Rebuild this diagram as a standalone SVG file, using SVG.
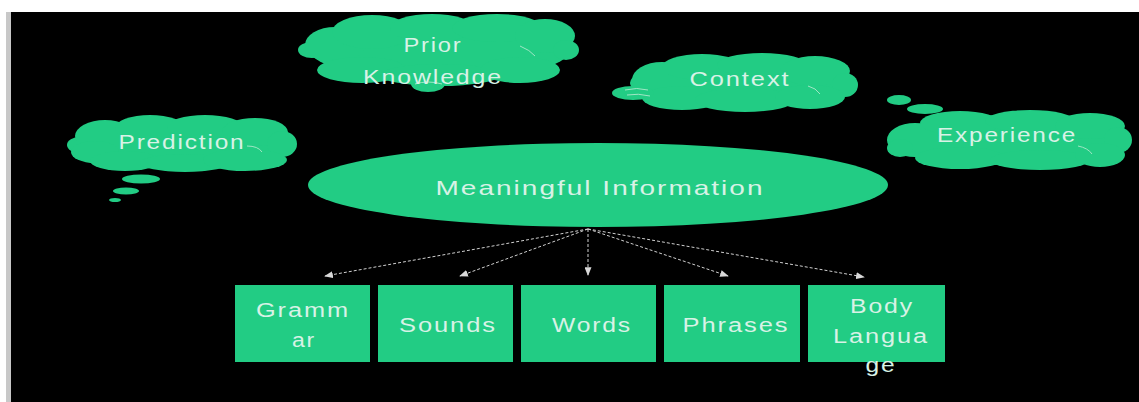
<svg xmlns="http://www.w3.org/2000/svg" width="1139" height="402" viewBox="0 0 1139 402">
  <style>
    .cloud ellipse, .ellipse, .box { fill: #22cc84; }
    .arc { fill: none; stroke: #9fe6c4; stroke-width: 1; }
    .label { font-family: "Liberation Sans", Arial, sans-serif; font-size: 20px; letter-spacing: 1.5px; fill: #d8f2e6; text-anchor: middle; }
    .big { font-size: 21px; }
    .link { stroke: #d0d0d0; stroke-width: 1; stroke-dasharray: 3 2; fill: none; marker-end: url(#head); }
  </style>
  <defs>
    <marker id="head" viewBox="0 0 10 8" refX="9" refY="4" markerWidth="9" markerHeight="7" markerUnits="userSpaceOnUse" orient="auto">
      <path d="M0,0 L10,4 L0,8 Z" fill="#d8d8d8"/>
    </marker>
  </defs>

  <!-- page frame -->
  <rect x="0" y="0" width="1139" height="402" fill="#ffffff"/>
  <rect x="6" y="12" width="5" height="390" fill="#c8c8c8"/>
  <rect x="11" y="12" width="1128" height="390" fill="#000000"/>

  <!-- thought cloud: Prediction -->
  <g id="prediction" class="cloud">
    <ellipse cx="182" cy="143" rx="105" ry="24"/>
    <ellipse cx="80" cy="145" rx="13" ry="8"/>
    <ellipse cx="105" cy="136" rx="30" ry="16"/>
    <ellipse cx="150" cy="128" rx="35" ry="13"/>
    <ellipse cx="205" cy="127" rx="38" ry="12"/>
    <ellipse cx="255" cy="132" rx="33" ry="14"/>
    <ellipse cx="282" cy="144" rx="15" ry="13"/>
    <ellipse cx="95" cy="152" rx="24" ry="11"/>
    <ellipse cx="125" cy="161" rx="35" ry="10"/>
    <ellipse cx="185" cy="163" rx="45" ry="9"/>
    <ellipse cx="245" cy="160" rx="42" ry="11"/>
    <ellipse cx="141" cy="179" rx="19" ry="4.5"/>
    <ellipse cx="126" cy="191" rx="13" ry="3.5"/>
    <ellipse cx="115" cy="200" rx="6" ry="2"/>
    <path class="arc" d="M247,146 Q258,146 262,152"/>
    <text class="label" x="182" y="149" textLength="127" lengthAdjust="spacingAndGlyphs">Prediction</text>
  </g>

  <!-- thought cloud: Prior Knowledge -->
  <g id="prior-knowledge" class="cloud">
    <ellipse cx="440" cy="50" rx="130" ry="30"/>
    <ellipse cx="312" cy="50" rx="14" ry="8"/>
    <ellipse cx="335" cy="45" rx="30" ry="18"/>
    <ellipse cx="372" cy="32" rx="40" ry="17"/>
    <ellipse cx="432" cy="28" rx="42" ry="14"/>
    <ellipse cx="497" cy="28" rx="45" ry="14"/>
    <ellipse cx="545" cy="36" rx="30" ry="17"/>
    <ellipse cx="566" cy="50" rx="13" ry="10"/>
    <ellipse cx="362" cy="70" rx="45" ry="13"/>
    <ellipse cx="440" cy="75" rx="60" ry="11"/>
    <ellipse cx="520" cy="70" rx="40" ry="13"/>
    <ellipse cx="428" cy="84" rx="17" ry="8"/>
    <path class="arc" d="M520,46 Q530,50 535,56"/>
    <path class="arc" d="M415,84 Q428,80 442,84"/>
    <text class="label" x="433" y="52" textLength="59" lengthAdjust="spacingAndGlyphs">Prior</text>
    <text class="label" x="433" y="84" textLength="140" lengthAdjust="spacingAndGlyphs">Knowledge</text>
  </g>

  <!-- thought cloud: Context -->
  <g id="context" class="cloud">
    <ellipse cx="742" cy="83" rx="112" ry="25"/>
    <ellipse cx="662" cy="80" rx="30" ry="18"/>
    <ellipse cx="702" cy="67" rx="40" ry="13"/>
    <ellipse cx="762" cy="65" rx="45" ry="12"/>
    <ellipse cx="815" cy="71" rx="35" ry="15"/>
    <ellipse cx="845" cy="85" rx="13" ry="12"/>
    <ellipse cx="682" cy="98" rx="40" ry="12"/>
    <ellipse cx="745" cy="100" rx="50" ry="12"/>
    <ellipse cx="810" cy="97" rx="35" ry="12"/>
    <ellipse cx="633" cy="93" rx="21" ry="7"/>
    <path class="arc" d="M625,90 Q637,87 648,90"/>
    <path class="arc" d="M627,95 Q638,93 650,96"/>
    <path class="arc" d="M808,86 Q816,88 820,94"/>
    <text class="label" x="740" y="86" textLength="101" lengthAdjust="spacingAndGlyphs">Context</text>
  </g>

  <!-- thought cloud: Experience -->
  <g id="experience" class="cloud">
    <ellipse cx="1010" cy="140" rx="115" ry="25"/>
    <ellipse cx="915" cy="140" rx="28" ry="17"/>
    <ellipse cx="900" cy="148" rx="13" ry="9"/>
    <ellipse cx="960" cy="123" rx="40" ry="12"/>
    <ellipse cx="1030" cy="121" rx="45" ry="11"/>
    <ellipse cx="1090" cy="126" rx="35" ry="13"/>
    <ellipse cx="1118" cy="140" rx="14" ry="13"/>
    <ellipse cx="960" cy="158" rx="45" ry="11"/>
    <ellipse cx="1040" cy="160" rx="50" ry="10"/>
    <ellipse cx="1100" cy="155" rx="25" ry="12"/>
    <ellipse cx="899" cy="100" rx="12" ry="5"/>
    <ellipse cx="925" cy="109" rx="18" ry="5"/>
    <path class="arc" d="M1078,146 Q1088,148 1092,154"/>
    <text class="label" x="1007" y="142" textLength="140" lengthAdjust="spacingAndGlyphs">Experience</text>
  </g>

  <!-- central ellipse -->
  <g id="meaningful-information">
    <ellipse class="ellipse" cx="598" cy="185" rx="290" ry="42"/>
    <text class="label big" x="600" y="195" textLength="329" lengthAdjust="spacingAndGlyphs">Meaningful Information</text>
  </g>

  <!-- connectors from the ellipse to the boxes -->
  <g id="connectors">
    <line class="link" x1="588" y1="229" x2="325" y2="276"/>
    <line class="link" x1="588" y1="229" x2="460" y2="276"/>
    <line class="link" x1="588" y1="229" x2="588" y2="275"/>
    <line class="link" x1="588" y1="229" x2="728" y2="276"/>
    <line class="link" x1="588" y1="229" x2="864" y2="277"/>
  </g>

  <!-- boxes -->
  <g id="grammar">
    <rect class="box" x="235" y="285" width="135" height="77"/>
    <text class="label" x="303" y="317" textLength="94" lengthAdjust="spacingAndGlyphs">Gramm</text>
    <text class="label" x="304" y="347" textLength="24" lengthAdjust="spacingAndGlyphs">ar</text>
  </g>
  <g id="sounds">
    <rect class="box" x="378" y="285" width="135" height="77"/>
    <text class="label" x="448" y="332" textLength="98" lengthAdjust="spacingAndGlyphs">Sounds</text>
  </g>
  <g id="words">
    <rect class="box" x="521" y="285" width="135" height="77"/>
    <text class="label" x="592" y="332" textLength="80" lengthAdjust="spacingAndGlyphs">Words</text>
  </g>
  <g id="phrases">
    <rect class="box" x="664" y="285" width="136" height="77"/>
    <text class="label" x="736" y="332" textLength="107" lengthAdjust="spacingAndGlyphs">Phrases</text>
  </g>
  <g id="body-language">
    <rect class="box" x="808" y="285" width="137" height="77"/>
    <text class="label" x="882" y="313" textLength="64" lengthAdjust="spacingAndGlyphs">Body</text>
    <text class="label" x="881" y="343" textLength="96" lengthAdjust="spacingAndGlyphs">Langua</text>
    <text class="label" x="881" y="372" textLength="31" lengthAdjust="spacingAndGlyphs">ge</text>
  </g>
</svg>
